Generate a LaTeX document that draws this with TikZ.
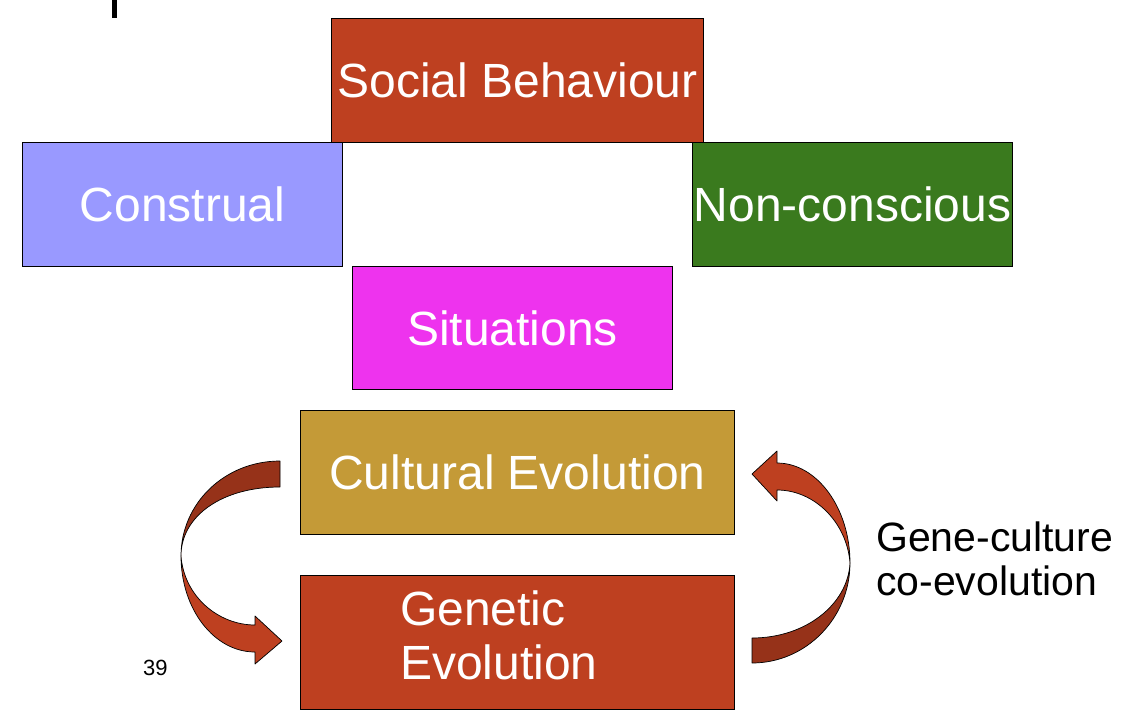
\documentclass[tikz,border=0pt]{standalone}
\usepackage{fontspec}
\setmainfont{Liberation Sans}
\definecolor{brick}{RGB}{190,64,32}
\definecolor{brickdark}{RGB}{150,50,25}
\definecolor{lav}{RGB}{153,153,255}
\definecolor{leaf}{RGB}{58,122,30}
\definecolor{magent}{RGB}{238,51,238}
\definecolor{ochre}{RGB}{196,154,55}
\begin{document}
\begin{tikzpicture}[x=1pt,y=-1pt,
  box/.style={draw=black,line width=0.8pt,anchor=north west,inner sep=0pt,text=white,
    font=\fontsize{48}{56}\selectfont},
  blk/.style={draw=black,line width=0.7pt,line join=round}]
\useasboundingbox (0,0) rectangle (1136,724);
\fill[black] (112,0) rectangle (117,18);
\node[box,fill=brick,minimum width=372pt,minimum height=124pt] (sb) at (331,18) {Social Behaviour};
\node[box,fill=lav,minimum width=320pt,minimum height=124pt] (con) at (22,142) {Construal};
\node[box,fill=leaf,minimum width=320pt,minimum height=124pt] (non) at (692,142) {Non-conscious};
\node[box,fill=magent,minimum width=320pt,minimum height=123pt] (sit) at (352,266) {Situations};
\node[box,fill=ochre,minimum width=434pt,minimum height=124pt] (cult) at (300,410) {Cultural Evolution};
\node[box,fill=brick,minimum width=434pt,minimum height=134pt] (gen) at (300,575) {};
\node[anchor=base west,inner sep=0pt,text=white,font=\fontsize{48}{56}\selectfont] (gen1) at (400,625) {Genetic};
\node[anchor=base west,inner sep=0pt,text=white,font=\fontsize{48}{56}\selectfont] (gen2) at (400,679) {Evolution};
\node[anchor=base west,inner sep=0pt,font=\fontsize{41}{48}\selectfont] (gc1) at (876,551) {Gene-culture};
\node[anchor=base west,inner sep=0pt,font=\fontsize{41}{48}\selectfont] (gc2) at (876,595) {co-evolution};
\node[anchor=base west,inner sep=0pt,font=\fontsize{22}{26}\selectfont] (pg) at (143,675) {39};
% left curved arrow (Cultural -> Genetic)
\filldraw[blk,fill=brickdark] (280,461) .. controls (225,461) and (181,503) .. (181,556)
  .. controls (181,516) and (222,487) .. (280,487) -- cycle;
\filldraw[blk,fill=brick] (181,556) .. controls (181,609) and (214,652) .. (255,652)
  -- (255,664) -- (282,641) -- (255,616) -- (255,625)
  .. controls (218,625) and (184,596) .. (181,556) -- cycle;
% right curved arrow (Genetic -> Cultural)
\filldraw[blk,fill=brickdark] (752,663) .. controls (806,663) and (850,618) .. (850,563)
  .. controls (848,604) and (806,638) .. (752,638) -- cycle;
\filldraw[blk,fill=brick] (850,563) .. controls (850,508) and (817,463) .. (777,463)
  -- (777,451) -- (752,474) -- (777,501) -- (777,490)
  .. controls (815,490) and (847,523) .. (850,563) -- cycle;
\end{tikzpicture}
\end{document}
